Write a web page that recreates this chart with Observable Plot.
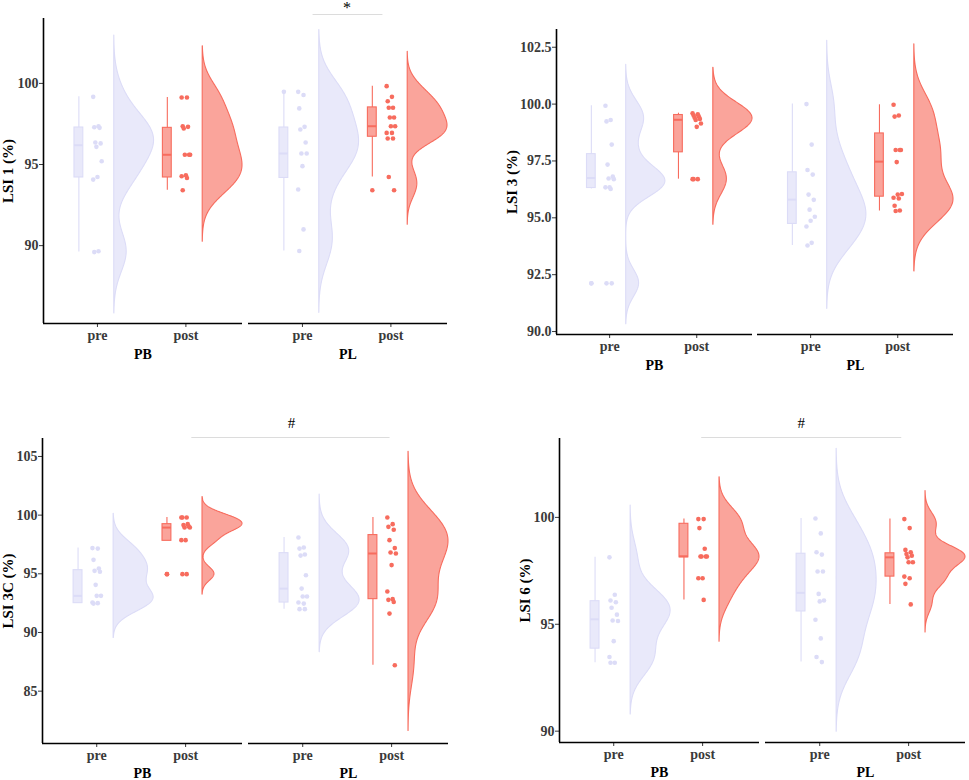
<!DOCTYPE html>
<html><head><meta charset="utf-8">
<script src="https://cdn.jsdelivr.net/npm/d3@7"></script>
<script src="https://cdn.jsdelivr.net/npm/@observablehq/plot@0.6"></script>
<style>
body{margin:0;background:#fff;}
#root{position:relative;width:969px;height:780px;overflow:hidden;}
.panel{position:absolute;}
.panel svg, .panel svg text{font-family:'Liberation Serif','Times New Roman',Times,serif !important;}
</style></head><body><div id="root"></div>
<script>
// ---------- categories ----------
const facets = ["PB", "PL"];
const times = ["pre", "post"];

// ---------- LSI 1 ----------
const lsi1_PB_pre  = [99.17, 97.36, 97.30, 97.26, 96.36, 96.30, 96.09, 95.20, 94.23, 94.07, 89.65, 89.60];
const lsi1_PB_post = [99.13, 99.13, 97.36, 97.32, 97.22, 95.60, 95.60, 95.60, 94.34, 94.28, 94.17, 93.41];
const lsi1_PL_pre  = [99.48, 99.28, 98.46, 97.32, 97.16, 96.36, 95.68, 95.68, 94.90, 93.46, 91.00, 89.67];
const lsi1_PL_post = [99.83, 99.17, 98.90, 98.50, 98.50, 97.90, 97.90, 97.36, 97.36, 96.95, 96.95, 96.60, 96.60, 94.23, 93.41];
// box stats per group [lower whisker, q1, median, q3, upper whisker] (PB pre, PB post, PL pre, PL post)
const lsi1_box = [[89.60, 94.20, 96.19, 97.28, 99.17], [93.41, 94.20, 95.60, 97.26, 99.13],
                  [89.67, 94.17, 95.68, 97.28, 99.45], [94.23, 96.71, 97.36, 98.52, 99.83]];
const lsi1_yDomain = [85.2, 104.0];
const lsi1_ticks = [90, 95, 100];

// ---------- LSI 3 ----------
const lsi3_PB_pre  = [99.93, 99.30, 99.24, 98.22, 97.34, 96.81, 96.73, 96.70, 96.34, 96.34, 96.27, 92.12, 92.12];
const lsi3_PB_post = [99.60, 99.55, 99.50, 99.45, 99.40, 99.35, 99.30, 99.15, 99.00, 96.70, 96.70, 96.70];
const lsi3_PL_pre  = [100.00, 98.22, 97.10, 96.90, 96.02, 95.79, 95.36, 95.05, 94.87, 94.62, 93.90, 93.78];
const lsi3_PL_post = [99.97, 99.50, 99.45, 97.98, 97.98, 97.98, 97.45, 96.05, 96.02, 95.88, 95.85, 95.53, 95.32, 95.30];
const lsi3_box = [[96.27, 96.31, 96.75, 97.80, 99.93], [96.70, 97.88, 99.31, 99.52, 99.60],
                  [93.78, 94.73, 95.80, 97.00, 100.00], [95.30, 95.93, 97.47, 98.71, 99.97]];
const lsi3_yDomain = [89.87, 103.28];
const lsi3_ticks = [90, 92.5, 95, 97.5, 100, 102.5];

// ---------- LSI 3C ----------
const lsi3c_PB_pre  = [97.19, 97.15, 96.19, 95.45, 95.25, 95.17, 94.06, 93.12, 93.12, 92.55, 92.50, 92.46];
const lsi3c_PB_post = [99.80, 99.80, 99.80, 99.23, 99.15, 99.03, 98.94, 98.94, 97.87, 97.87, 94.97, 94.97];
const lsi3c_PL_pre  = [98.09, 97.24, 97.15, 96.65, 96.55, 94.88, 93.74, 93.06, 93.06, 92.55, 92.46, 91.99, 91.99];
const lsi3c_PL_post = [99.80, 99.23, 99.00, 98.75, 97.87, 97.19, 96.81, 96.73, 95.74, 93.49, 92.84, 92.78, 92.60, 91.61, 87.21];
const lsi3c_box = [[92.46, 92.50, 93.12, 95.31, 97.19], [97.81, 97.81, 98.94, 99.23, 99.80],
                   [91.99, 92.55, 93.74, 96.76, 98.09], [87.21, 92.84, 96.73, 98.30, 99.80]];
const lsi3c_yDomain = [80.54, 106.53];
const lsi3c_ticks = [85, 90, 95, 100, 105];

// ---------- LSI 6 ----------
const lsi6_PB_pre  = [98.13, 96.38, 96.11, 96.03, 95.77, 95.45, 95.18, 95.15, 94.21, 93.47, 93.20, 93.20];
const lsi6_PB_post = [99.92, 99.92, 99.50, 98.53, 98.17, 98.17, 98.17, 98.17, 97.15, 97.15, 96.14];
const lsi6_PL_pre  = [99.95, 99.25, 98.37, 98.26, 97.47, 97.47, 96.42, 96.11, 96.07, 95.21, 94.34, 93.47, 93.23];
const lsi6_PL_post = [99.92, 99.50, 98.48, 98.37, 98.29, 98.21, 98.13, 97.90, 97.90, 97.23, 97.15, 96.89, 95.93];
const lsi6_box = [[93.20, 93.86, 95.23, 96.08, 98.13], [96.14, 98.13, 98.18, 99.70, 99.92],
                  [93.23, 95.60, 96.47, 98.30, 99.95], [95.93, 97.23, 98.13, 98.32, 99.92]];
const lsi6_yDomain = [89.47, 103.69];
const lsi6_ticks = [90, 95, 100];

// ---------- styling ----------
const colPre = "#DCDCF7", colPost = "#F76C5E";
const FONT = "'Liberation Serif','Times New Roman',Times,serif";

const panels = [
  {label: "LSI 1 (%)", groups: [lsi1_PB_pre, lsi1_PB_post, lsi1_PL_pre, lsi1_PL_post], box: lsi1_box,
   yDomain: lsi1_yDomain, ticks: lsi1_ticks, fmt: d3.format("d"),
   left: 0, top: 0, width: 480, height: 390, m: [18, 32, 67, 42], labelOffset: 41, fxDy: 31,
   sig: {facet: "PL", x1: 1.12, x2: 1.91, tx: 1.505, text: "*", dy: -4, tdy: -17, anchor: "top", size: 16}},
  {label: "LSI 3 (%)", groups: [lsi3_PB_pre, lsi3_PB_post, lsi3_PL_pre, lsi3_PL_post], box: lsi3_box,
   yDomain: lsi3_yDomain, ticks: lsi3_ticks, fmt: d3.format(".1f"),
   left: 480, top: 0, width: 489, height: 390, m: [29, 16, 56, 76], labelOffset: 50, fxDy: 31, sig: null},
  {label: "LSI 3C (%)", groups: [lsi3c_PB_pre, lsi3c_PB_post, lsi3c_PL_pre, lsi3c_PL_post], box: lsi3c_box,
   yDomain: lsi3c_yDomain, ticks: lsi3c_ticks, fmt: d3.format("d"),
   left: 0, top: 390, width: 480, height: 390, m: [48, 31, 37, 42], labelOffset: 40, fxDy: 30,
   sig: {facet: "PB", x1: 2.07, x2: 4.30, tx: 3.19, text: "#", dy: -1, tdy: -15, anchor: "middle", size: 15}},
  {label: "LSI 6 (%)", groups: [lsi6_PB_pre, lsi6_PB_post, lsi6_PL_pre, lsi6_PL_post], box: lsi6_box,
   yDomain: lsi6_yDomain, ticks: lsi6_ticks, fmt: d3.format("d"),
   left: 480, top: 390, width: 489, height: 390, m: [48, 3, 38, 79], labelOffset: 40, fxDy: 30,
   sig: {facet: "PB", x1: 1.99, x2: 4.24, tx: 3.11, text: "#", dy: -1, tdy: -15, anchor: "middle", size: 15}}
];

const jitter = i => (((i * 5) % 9) - 4) * 0.012;
const VW = 0.45, VOFF = 0.19, BOFF = -0.21, BW = 0.05;

function kde(vals, iqr) {
  const n = vals.length;
  const sd = d3.deviation(vals);
  const lo = Math.min(sd, iqr / 1.34);
  const bw = 0.9 * (lo > 0 ? lo : sd) * Math.pow(n, -0.2);
  const a = d3.min(vals) - 3 * bw, b = d3.max(vals) + 3 * bw;
  const N = 300, out = [];
  for (let k = 0; k < N; k++) {
    const y = a + (b - a) * k / (N - 1);
    let s = 0;
    for (const v of vals) { const u = (y - v) / bw; s += Math.exp(-0.5 * u * u); }
    out.push([y, s]);
  }
  const mx = d3.max(out, d => d[1]);
  return out.map(([y, s]) => ({y, w: s / mx}));
}

const root = document.getElementById("root");

panels.forEach(p => {
  const pts = [], outs = [], boxes = [], vio = [];
  p.groups.forEach((vals, gi) => {
    const fx = facets[Math.floor(gi / 2)], time = times[gi % 2], cat = (gi % 2) + 1;
    const [lo, q1, med, q3, hi] = p.box[gi];
    boxes.push({fx, time, cat, lo, q1, med, q3, hi});
    vals.forEach((v, i) => {
      pts.push({fx, time, cat, v, j: jitter(i)});
      if (v < lo - 1e-9 || v > hi + 1e-9) outs.push({fx, time, cat, v});
    });
    kde(vals, q3 - q1).forEach(d => vio.push({fx, time, g: fx + time, cat, y: d.y,
      x1: cat + VOFF, x2: cat + VOFF + VW * d.w}));
  });
  const [y0, y1] = p.yDomain;
  const marks = [
    Plot.areaX(vio, {fx: "fx", z: "g", y: "y", x1: "x1", x2: "x2", fill: "time", fillOpacity: 0.62,
      stroke: "time", strokeWidth: 1.1}),
    Plot.ruleX(boxes, {fx: "fx", x: d => d.cat + BOFF, y1: "lo", y2: "q1", stroke: "time", strokeWidth: 1.1}),
    Plot.ruleX(boxes, {fx: "fx", x: d => d.cat + BOFF, y1: "q3", y2: "hi", stroke: "time", strokeWidth: 1.1}),
    Plot.rect(boxes, {fx: "fx", x1: d => d.cat + BOFF - BW, x2: d => d.cat + BOFF + BW, y1: "q1", y2: "q3",
      fill: "time", fillOpacity: 0.62, stroke: "time", strokeWidth: 1.1}),
    Plot.ruleY(boxes, {fx: "fx", x1: d => d.cat + BOFF - BW, x2: d => d.cat + BOFF + BW, y: "med",
      stroke: "time", strokeWidth: 2}),
    Plot.dot(outs, {fx: "fx", x: d => d.cat + BOFF, y: "v", fill: "time", r: 2.3}),
    Plot.dot(pts, {fx: "fx", x: d => d.cat + d.j, y: "v", fill: "time", r: 2.3}),
    // axis lines
    Plot.ruleY([y0], {stroke: "#000", strokeWidth: 1.6}),
    Plot.ruleX([{f: "PB"}], {fx: "f", x: () => 0.39, stroke: "#000", strokeWidth: 1.6}),
    // facet labels
    Plot.text(facets.map(f => ({f})), {fx: "f", text: "f", frameAnchor: "bottom", lineAnchor: "middle",
      dy: p.fxDy, fill: "#000", fontSize: 14, fontWeight: "bold"})
  ];
  if (p.sig) {
    const s = p.sig;
    marks.push(Plot.ruleY([{f: s.facet}], {fx: "f", y: () => y1, x1: () => s.x1, x2: () => s.x2, dy: s.dy,
      stroke: "#dcdcdc", strokeWidth: 1.2}));
    marks.push(Plot.text([{f: s.facet}], {fx: "f", y: () => y1, x: () => s.tx, text: () => s.text,
      lineAnchor: s.anchor, dy: s.tdy, fill: "#000", fontWeight: "normal", fontSize: s.size}));
  }
  const chart = Plot.plot({
    width: p.width, height: p.height,
    marginTop: p.m[0], marginRight: p.m[1], marginBottom: p.m[2], marginLeft: p.m[3],
    style: {fontFamily: FONT, fontSize: "14px", fontWeight: "bold", color: "#3a3a3a", background: "transparent"},
    fx: {domain: facets, axis: null, paddingInner: 0.027, paddingOuter: 0},
    x: {domain: [0.39, 2.64], ticks: [1, 2], tickFormat: d => times[Math.round(d) - 1], tickSize: 4,
        tickPadding: 3, label: null},
    y: {domain: p.yDomain, ticks: p.ticks, tickFormat: p.fmt, tickSize: 4, tickPadding: 1,
        label: p.label, labelAnchor: "center", labelOffset: p.labelOffset},
    color: {domain: times, range: [colPre, colPost]},
    marks
  });
  d3.select(chart).selectAll('[aria-label="y-axis label"] text').each(function() {
    this.textContent = p.label;
  }).attr("fill", "#000").style("font-size", "15px");
  d3.select(chart).selectAll('[aria-label="y-axis label"]').attr("fill", "#000");
  const div = document.createElement("div");
  div.className = "panel";
  div.style.left = p.left + "px"; div.style.top = p.top + "px";
  div.appendChild(chart);
  root.appendChild(div);
});
</script></body></html>
